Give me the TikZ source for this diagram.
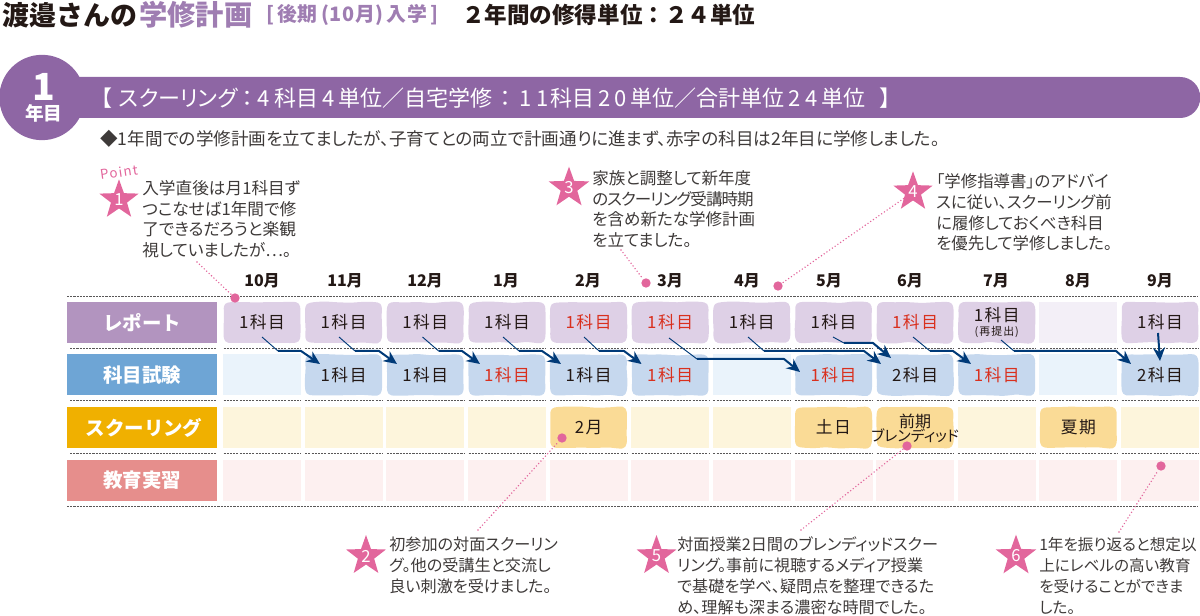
\documentclass[tikz,border=0pt]{standalone}
\usepackage{fontspec}
\usetikzlibrary{shapes.geometric,arrows.meta}
\setmainfont{Noto Sans CJK JP}
\newfontfamily\hand[LetterSpace=9]{Noto Sans CJK JP}
\newfontfamily\hb[LetterSpace=3]{Noto Sans CJK JP}
\newfontfamily\pf[RawFeature={+palt}]{Noto Sans CJK JP}
\newfontfamily\pfn[RawFeature={+palt},LetterSpace=-6]{Noto Sans CJK JP}
\newcommand\dg{\hspace{3pt}}
\definecolor{ink}{HTML}{231815}
\definecolor{notec}{HTML}{3E3A39}
\definecolor{band}{HTML}{8E66A4}
\definecolor{lab1}{HTML}{B294BF}
\definecolor{cel1}{HTML}{DED0E6}
\definecolor{emp1}{HTML}{F3EFF7}
\definecolor{lab2}{HTML}{6EA5D5}
\definecolor{cel2}{HTML}{C6D8EE}
\definecolor{emp2}{HTML}{EAF3FB}
\definecolor{lab3}{HTML}{F0B000}
\definecolor{cel3}{HTML}{FADB96}
\definecolor{emp3}{HTML}{FDF5DC}
\definecolor{lab4}{HTML}{E68E8C}
\definecolor{emp4}{HTML}{FDF0F0}
\definecolor{starc}{HTML}{E2669C}
\definecolor{arrc}{HTML}{003A78}
\definecolor{redt}{HTML}{D9301E}
\definecolor{dashc}{HTML}{595757}
\tikzset{
  cellbox/.style={minimum width=58.5pt,minimum height=30.75pt,inner sep=0pt,outer sep=0pt},
  wob/.style={cellbox,font=\hand\fontsize{12.6}{14}\selectfont,text=ink},
  labbox/.style={minimum width=112.5pt,minimum height=30.75pt,inner sep=0pt,fill=#1,text=white,font=\bfseries\fontsize{14.6}{16}\selectfont},
  rline/.style={dashc,line width=.75pt,dash pattern=on 1.6pt off .8pt},
  mon/.style={font=\bfseries\fontsize{12}{14}\selectfont,text=ink,inner sep=0pt},
  starn/.style={star,star points=5,star point ratio=2.45,fill=starc,minimum size=31pt,inner sep=0pt,text=white,font=\fontsize{12.5}{14}\selectfont},
  notebox/.style={anchor=west,align=left,inner sep=0pt,text=notec},
  dotn/.style={circle,fill=starc,minimum size=7pt,inner sep=0pt},
  leader/.style={starc,line width=1.2pt,line cap=round,dash pattern=on 0pt off 2.5pt},
  al/.style={arrc,line width=.7pt,line join=round},
  ah/.style={arrc,line width=1.5pt,line join=round,-{Stealth[length=10pt,width=9pt]}},
}
% wobbly rounded cell: #1 x, #2 y, #3 fill
\newcommand\blobcell[3]{%
  \fill[#3] plot[smooth cycle,tension=.55] coordinates {
    ({#1-34},{#2-20+.5*rand}) ({#1-20},{#2-20.5+.5*rand}) ({#1-7},{#2-20.5+.5*rand}) ({#1+7},{#2-20+.5*rand}) ({#1+20},{#2-20.5+.5*rand}) ({#1+34},{#2-20.5+.5*rand})
    ({#1+38},{#2-16}) ({#1+38.4+.4*rand},{#2-6}) ({#1+38.4+.4*rand},{#2+6}) ({#1+38},{#2+16})
    ({#1+34},{#2+20.5+.5*rand}) ({#1+20},{#2+20+.5*rand}) ({#1+7},{#2+20.5+.5*rand}) ({#1-7},{#2+20+.5*rand}) ({#1-20},{#2+20.5+.5*rand}) ({#1-34},{#2+20+.5*rand})
    ({#1-38},{#2+16}) ({#1-38.4+.4*rand},{#2+6}) ({#1-38.4+.4*rand},{#2-6}) ({#1-38},{#2-16})
  };}
\begin{document}
\begin{tikzpicture}[x=.75pt,y=-.75pt]
\useasboundingbox (0,0) rectangle (1200,616);
\pgfmathsetseed{7}
% title
\node[anchor=west,inner sep=0pt,text=ink,font=\bfseries\fontsize{20.2}{22}\selectfont] (t1) at (2,15) {渡邉さんの};
\node[anchor=west,inner sep=0pt,text=band!85,font=\bfseries\fontsize{21.2}{22}\selectfont] (t2) at (139,15) {学修計画};
\node[anchor=west,inner sep=0pt,text=band!85,font=\hb\bfseries\fontsize{14.9}{16}\selectfont] (t3) at (266,15) {[\,後期\,(10月)\,入学\,]};
\node[anchor=west,inner sep=0pt,text=ink,font=\bfseries\fontsize{16.9}{18}\selectfont] (t4) at (462,15) {２年間の修得単位：２４単位};
% band
\node[fill=band,rounded corners=15pt,minimum height=30.75pt,minimum width=856pt,inner sep=0pt] (bar) at (629.5,97.5) {};
\node[circle,fill=band,minimum size=64pt,inner sep=0pt] (yc) at (42,97.5) {};
\node[text=white,inner sep=0pt,font=\bfseries\fontsize{28}{30}\selectfont] (yn) at (44,87) {1};
\node[text=white,inner sep=0pt,font=\bfseries\fontsize{14}{16}\selectfont] (yt) at (44,113) {年目};
\node[anchor=west,text=white,inner sep=0pt,font=\pf\fontsize{16.5}{18}\selectfont] (bt) at (101,98) {【\hspace{5pt}スクーリング\hspace{3.5pt}：\hspace{3.5pt}4\dg 科目\dg 4\dg 単位／自宅学修\hspace{6pt}：\hspace{6pt}1\hspace{4pt}1\hspace{1pt}科目\dg 2\dg 0\dg 単位／合計単位\dg 2\dg 4\dg 単位\hspace{11pt}】};
\node[anchor=west,text=notec,inner sep=0pt,font=\pf\fontsize{13.2}{14}\selectfont] (lead) at (100,139) {◆1年間での学修計画を立てましたが、子育てとの両立で計画通りに進まず、赤字の科目は2年目に学修しました。};
% months
\foreach \n/\x/\m in {m1/262/10月,m2/345/11月,m3/425/12月,m4/506/1月,m5/588/2月,m6/670/3月,m7/747/4月,m8/829/5月,m9/910/6月,m10/996/7月,m11/1078/8月,m12/1160/9月}
  \node[mon] (\n) at (\x,281) {\m};
% rules
\draw[rline] (67,297) -- (1197,297);
\draw[rline] (67,507) -- (1197,507);
\foreach \y in {349,401,454}{
  \draw[rline] (70,\y) -- (217,\y);
  \foreach \x in {262,343.6,425.3,507,588.6,670.2,751.8,833.5,915.1,996.8,1078.4,1160}
    \draw[rline] (\x-38.5,\y) -- (\x+38.5,\y);
}
% labels
\node[labbox=lab1] (l1) at (142,322.5) {レポート};
\node[labbox=lab2] (l2) at (142,375) {科目試験};
\node[labbox=lab3] (l3) at (142,427.5) {\hspace{3pt}スクーリング};
\node[labbox=lab4] (l4) at (142,480.5) {教育実習};
% empty cells
\node[cellbox,fill=emp1] (r11) at (1078.4,322.5) {};
\foreach \n/\x in {e1/262,e7/751.8,e11/1078.4}
  \node[cellbox,fill=emp2] (\n) at (\x,375) {};
\foreach \n/\x in {s1/262,s2/343.6,s3/425.3,s4/507,s6/670.2,s7/751.8,s10/996.8,s12/1160}
  \node[cellbox,fill=emp3] (\n) at (\x,427.5) {};
\foreach \n/\x in {k1/262,k2/343.6,k3/425.3,k4/507,k5/588.6,k6/670.2,k7/751.8,k8/833.5,k9/915.1,k10/996.8,k11/1078.4,k12/1160}
  \node[cellbox,fill=emp4] (\n) at (\x,480.5) {};
% report cells
\foreach \n/\x/\cc in {r1/262/ink,r2/343.6/ink,r3/425.3/ink,r4/507/ink,r5/588.6/redt,r6/670.2/redt,r7/751.8/ink,r8/833.5/ink,r9/915.1/redt,r12/1160/ink}{
  \blobcell{\x}{322.5}{cel1}
  \node[wob,text=\cc] (\n) at (\x,322.5) {1科目};
}
\blobcell{996.8}{322.5}{cel1}
\node[wob] (r10) at (996.8,322.5) {};
\node[inner sep=0pt,text=ink,font=\hand\fontsize{12.6}{14}\selectfont] (r10a) at (996.8,315) {1科目};
\node[inner sep=0pt,text=ink,font=\hand\fontsize{8.2}{9}\selectfont] (r10b) at (996.8,332) {(再提出)};
% exam cells
\foreach \n/\x/\cc/\tt in {e2/343.6/ink/1科目,e3/425.3/ink/1科目,e4/507/redt/1科目,e5/588.6/ink/1科目,e6/670.2/redt/1科目,e8/833.5/redt/1科目,e9/915.1/ink/2科目,e10/996.8/redt/1科目,e12/1160/ink/2科目}{
  \blobcell{\x}{375}{cel2}
  \node[wob,text=\cc] (\n) at (\x,375) {\tt};
}
% schooling cells
\foreach \n/\x/\tt in {s5/588.6/2月,s8/833.5/土日,s9/915.1/{},s11/1078.4/夏期}{
  \blobcell{\x}{427.5}{cel3}
  \node[wob] (\n) at (\x,427.5) {\tt};
}
\node[inner sep=0pt,text=ink,font=\fontsize{12}{14}\selectfont] (s9a) at (915.1,421) {前期};
\node[inner sep=0pt,text=ink,font=\pf\fontsize{11.2}{12}\selectfont] (s9b) at (915.1,436) {ブレンディッド};
% connectors
\draw[al] ([shift={(0,14.5)}]r1.center) -- (278,351);
\draw[ah] (278,351) -- (301,351) -- ([shift={(-23.6,-11)}]e2.center);
\draw[al] ([shift={(-4.6,14.5)}]r2.center) -- (355,351);
\draw[ah] (355,351) -- (379,351) -- ([shift={(-28.3,-11)}]e3.center);
\draw[al] ([shift={(-2.8,14.5)}]r3.center) -- (438.6,351);
\draw[ah] (438.6,351) -- (462,351) -- ([shift={(-27,-11)}]e4.center);
\draw[al] ([shift={(-4,14.5)}]r4.center) -- (519,351);
\draw[ah] (519,351) -- (542,351) -- ([shift={(-27.6,-11)}]e5.center);
\draw[al] ([shift={(-4.6,14.5)}]r5.center) -- (599,351);
\draw[ah] (599,351) -- (624,351) -- ([shift={(-28.7,-11)}]e6.center);
\draw[al] ([shift={(-1.2,15.5)}]r6.center) -- (697,359);
\draw[ah] (697,359) -- (784,359) -- ([shift={(-33.5,-3)}]e8.center);
\draw[al] ([shift={(-3.8,14.5)}]r7.center) -- (764,351);
\draw[ah] (764,351) -- (864,351) -- ([shift={(-34.1,-11)}]e9.center);
\draw[al] ([shift={(-.5,14.5)}]r8.center) -- (844,343);
\draw[ah] (844,343) -- (873,343) -- ([shift={(-24.1,-17)}]e9.center);
\draw[al] ([shift={(-2.1,14.5)}]r9.center) -- (930,351);
\draw[ah] (930,351) -- (953,351) -- ([shift={(-25.8,-11)}]e10.center);
\draw[al] ([shift={(4.2,17.5)}]r10.center) -- (1014,351);
\draw[ah] (1014,351) -- (1116,351) -- ([shift={(-29,-11)}]e12.center);
\draw[ah] ([shift={(-2,10.5)}]r12.center) -- ([shift={(0,-14)}]e12.center);
% stars
\node[starn] (st1) at (119,200) {1};
\node[starn] (st2) at (366,556) {2};
\node[starn] (st3) at (569,188) {3};
\node[starn] (st4) at (913,192) {4};
\node[starn] (st5) at (656.5,556) {5};
\node[starn] (st6) at (1016,556) {6};
\node[text=starc,inner sep=0pt,rotate=8,font=\hand\fontsize{10}{12}\selectfont] (pt) at (119,172) {Point};
% notes
\node[notebox,font=\pf\fontsize{12.5}{15.5}\selectfont] (n1) at (142,219) {入学直後は月1科目ず\\つこなせば1年間で修\\了できるだろうと楽観\\視していましたが…。};
\node[notebox,font=\pf\fontsize{12.1}{15.7}\selectfont] (n2) at (389,565) {初参加の対面スクーリン\\グ。他の受講生と交流し\\良い刺激を受けました。};
\node[notebox,font=\pf\fontsize{12.4}{15.5}\selectfont] (n3) at (592,209) {家族と調整して新年度\\{\pfn のスクーリング受講時期}\\を含め新たな学修計画\\を立てました。};
\node[notebox,font=\pf\fontsize{12.3}{15.5}\selectfont] (n4) at (936,212.5) {「学修指導書」のアドバイ\\スに従い、スクーリング前\\に履修しておくべき科目\\を優先して学修しました。};
\node[notebox,font=\pf\fontsize{12.1}{15.7}\selectfont] (n5) at (677,576) {対面授業2日間のブレンディッドスクー\\リング。事前に視聴するメディア授業\\で基礎を学べ、疑問点を整理できるた\\め、理解も深まる濃密な時間でした。};
\node[notebox,font=\pf\fontsize{11.7}{15.7}\selectfont] (n6) at (1039,576) {1年を振り返ると想定以\\上にレベルの高い教育\\を受けることができま\\した。};
% leaders
\coordinate (f1) at (197,262);
\coordinate (f2) at (478,530);
\coordinate (f3) at (621,250);
\coordinate (f5) at (801,530);
\coordinate (f6) at (1119,532);
\node[dotn] (d1) at (235,298) {};
\node[dotn] (d2) at (562,438) {};
\node[dotn] (d3) at (646,283) {};
\node[dotn] (d4) at (778,286) {};
\node[dotn] (d5) at (907,446) {};
\node[dotn] (d6) at (1161,466) {};
\draw[leader] (f1) -- (d1);
\draw[leader] (f2) -- (d2);
\draw[leader] (f3) -- (d3);
\draw[leader] (st4) -- (d4);
\draw[leader] (f5) -- (d5);
\draw[leader] (f6) -- (d6);
\end{tikzpicture}
\end{document}
